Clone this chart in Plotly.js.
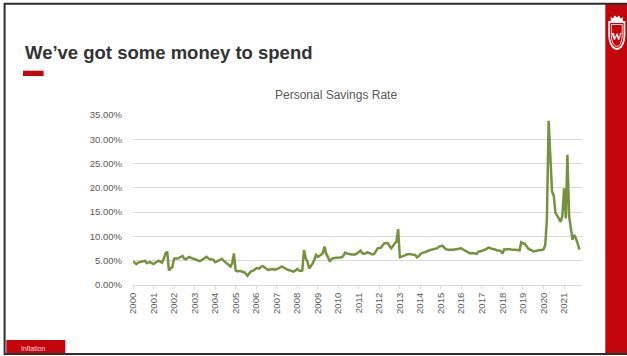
<!DOCTYPE html>
<html>
<head>
<meta charset="utf-8">
<script src="https://cdn.plot.ly/plotly-3.0.1.min.js"></script>
<style>
  html, body { margin: 0; padding: 0; background: #ffffff; }
  #chart { width: 627px; height: 356px; }
</style>
</head>
<body>
<div id="chart"></div>
<script>
// ---- Data ----
const slideTitle = "We\u2019ve got some money to spend";
const chartTitle = "Personal Savings Rate";
const footerLabel = "Inflation";
const startYear = 2000;
// Monthly personal savings rate (%), Jan 2000 .. Oct 2021
const savingsRate = [
  4.9, 4.5, 4.3, 4.6, 4.7, 4.8, 4.9, 5.0, 4.5, 4.6, 4.7, 4.5,   // 2000
  4.3, 4.6, 4.8, 5.0, 4.8, 4.6, 5.4, 6.5, 6.9, 3.0, 3.4, 3.7,   // 2001
  5.4, 5.5, 5.4, 5.6, 5.8, 6.0, 5.4, 5.3, 5.6, 5.8, 5.6, 5.5,   // 2002
  5.4, 5.2, 5.0, 4.9, 5.1, 5.3, 5.5, 5.8, 5.5, 5.3, 5.3, 5.2,   // 2003
  4.7, 4.8, 5.0, 5.2, 5.4, 5.0, 4.7, 4.4, 4.1, 3.8, 4.5, 6.5,   // 2004
  3.0, 2.8, 2.9, 2.9, 2.7, 2.7, 2.3, 1.9, 2.4, 2.8, 2.9, 3.2,   // 2005
  3.4, 3.5, 3.4, 3.8, 3.9, 3.6, 3.4, 3.1, 3.2, 3.3, 3.3, 3.1,   // 2006
  3.2, 3.4, 3.6, 3.8, 3.6, 3.3, 3.2, 3.1, 2.95, 2.9, 2.75, 3.0, // 2007
  3.3, 3.0, 2.9, 3.0, 7.2, 5.5, 4.8, 3.4, 3.9, 4.4, 5.2, 6.2,   // 2008
  5.8, 6.0, 6.2, 6.6, 7.9, 6.4, 5.8, 4.8, 5.3, 5.5, 5.6, 5.6,   // 2009
  5.6, 5.6, 5.7, 6.0, 6.65, 6.5, 6.4, 6.4, 6.3, 6.3, 6.3, 6.5,  // 2010
  6.8, 7.1, 6.6, 6.4, 6.5, 6.7, 6.6, 6.5, 6.3, 6.4, 6.9, 7.55,  // 2011
  7.6, 7.7, 8.2, 8.6, 8.6, 8.6, 8.0, 7.55, 8.0, 8.6, 8.9, 11.5, // 2012
  5.7, 5.8, 5.9, 6.1, 6.3, 6.4, 6.4, 6.3, 6.3, 6.2, 5.7, 5.9,   // 2013
  6.4, 6.6, 6.7, 6.8, 7.0, 7.1, 7.2, 7.3, 7.3, 7.4, 7.6, 7.9,   // 2014
  8.0, 8.1, 7.7, 7.35, 7.3, 7.2, 7.3, 7.2, 7.3, 7.3, 7.4, 7.5,  // 2015
  7.55, 7.3, 7.1, 6.9, 6.6, 6.5, 6.6, 6.6, 6.5, 6.4, 6.9, 6.9,  // 2016
  7.0, 7.1, 7.3, 7.5, 7.7, 7.6, 7.4, 7.4, 7.2, 7.1, 7.1, 7.0,   // 2017
  6.5, 7.35, 7.3, 7.4, 7.4, 7.3, 7.3, 7.3, 7.35, 7.2, 7.1, 8.8, // 2018
  8.6, 8.5, 8.1, 7.55, 7.3, 7.2, 6.9, 7.0, 7.1, 7.2, 7.2, 7.2,  // 2019
  7.3, 8.2, 13.4, 33.8, 25.0, 19.2, 18.4, 14.8, 14.3, 13.7, 13.0, 14.2, // 2020
  19.9, 13.7, 26.8, 14.1, 11.3, 9.3, 10.3, 9.6, 8.5, 7.3         // 2021
];
const yearTicks = ["2000","2001","2002","2003","2004","2005","2006","2007","2008","2009","2010",
                   "2011","2012","2013","2014","2015","2016","2017","2018","2019","2020","2021"];
const yTickValues = [0, 5, 10, 15, 20, 25, 30, 35];
const yTickLabels = ["0.00%", "5.00%", "10.00%", "15.00%", "20.00%", "25.00%", "30.00%", "35.00%"];

// ---- Build category dates (one per month) ----
const months = savingsRate.map((_, i) => {
  const y = startYear + Math.floor(i / 12);
  const m = (i % 12) + 1;
  return y + "-" + String(m).padStart(2, "0") + "-01";
});

// ---- Geometry helpers (pixel -> paper) ----
const W = 627, H = 356;
const L = 132.7, R = 581.7, T = 115, B = 285;
const px = x => (x - L) / (R - L);
const py = y => (B - y) / (B - T);

const RED = "#c5050c";
const shapes = [
  {type: "rect", xref: "paper", yref: "paper", x0: px(605), x1: px(630), y0: py(3.5), y1: py(354),
   fillcolor: RED, line: {width: 0}, layer: "above"},
  {type: "rect", xref: "paper", yref: "paper", x0: px(4.3), x1: px(640), y0: py(3.7), y1: py(354),
   fillcolor: "rgba(0,0,0,0)", line: {width: 2, color: "#2e2e2e"}, layer: "above"},
  {type: "rect", xref: "paper", yref: "paper", x0: px(22.7), x1: px(43.3), y0: py(70.7), y1: py(76),
   fillcolor: RED, line: {width: 0}, layer: "above"},
  {type: "rect", xref: "paper", yref: "paper", x0: px(6), x1: px(65), y0: py(340), y1: py(353),
   fillcolor: RED, line: {width: 0}, layer: "above"}
];

function pathOf(pts) {
  return "M " + pts.map(p => px(p[0]) + "," + py(p[1])).join(" L ") + " Z";
}
function shield(cx, top, bot, hw) {
  const pts = [];
  pts.push([cx - hw, top]);
  pts.push([cx + hw, top]);
  for (let k = 0; k <= 10; k++) {
    const a = k / 10 * Math.PI;
    pts.push([cx + hw * Math.cos(a), (top + bot) / 2 + (bot - (top + bot) / 2) * Math.sin(a)]);
  }
  return pathOf(pts);
}
shapes.push({type: "path", xref: "paper", yref: "paper", path: shield(616.5, 21, 50, 8.5),
  fillcolor: "#ffffff", line: {width: 0}, layer: "above"});
shapes.push({type: "path", xref: "paper", yref: "paper", path: shield(616.5, 23, 48, 6.8),
  fillcolor: RED, line: {width: 0}, layer: "above"});
shapes.push({type: "path", xref: "paper", yref: "paper", path: shield(616.5, 24.5, 46.5, 5.4),
  fillcolor: "rgba(0,0,0,0)", line: {width: 0.8, color: "#ffffff"}, layer: "above"});
shapes.push({type: "path", xref: "paper", yref: "paper",
  path: pathOf([[610.5,21],[610.5,17],[612.5,18.5],[614.5,15.5],[616.5,17.5],[618.5,15.5],[620.5,18.5],[622.5,17],[622.5,21]]),
  fillcolor: "#ffffff", line: {width: 0}, layer: "above"});

const annotations = [
  {xref: "paper", yref: "paper", x: px(22.7), y: py(53), xanchor: "left", yanchor: "middle",
   text: slideTitle, showarrow: false,
   font: {family: "Liberation Sans, Arial, sans-serif", size: 18.5, color: "#333333", weight: "bold"}},
  {xref: "paper", yref: "paper", x: px(335.5), y: py(95), xanchor: "center", yanchor: "middle",
   text: chartTitle, showarrow: false,
   font: {family: "Liberation Sans, Arial, sans-serif", size: 12, color: "#595959"}},
  {xref: "paper", yref: "paper", x: px(33), y: py(348), xanchor: "center", yanchor: "middle",
   text: footerLabel, showarrow: false,
   font: {family: "Liberation Sans, Arial, sans-serif", size: 7, color: "#f3d6d6"}},
  {xref: "paper", yref: "paper", x: px(616.5), y: py(36), xanchor: "center", yanchor: "middle",
   text: "W", showarrow: false,
   font: {family: "Liberation Serif, serif", size: 11, color: "#ffffff", weight: "bold"}}
];

const trace = {
  type: "scatter", mode: "lines",
  x: months, y: savingsRate,
  line: {color: "#76923c", width: 2.5, shape: "linear"},
  hoverinfo: "skip"
};

const layout = {
  width: W, height: H, autosize: false,
  margin: {l: L, r: W - R, t: T, b: H - B, pad: 0},
  paper_bgcolor: "#ffffff", plot_bgcolor: "#ffffff",
  showlegend: false,
  font: {family: "Liberation Sans, Arial, sans-serif", color: "#595959"},
  xaxis: {
    type: "date",
    range: ["2000-01-01", "2021-11-16"],
    tickmode: "array",
    tickvals: yearTicks.map(y => y + "-01-01"),
    ticktext: yearTicks,
    tickangle: -90,
    ticks: "outside", ticklen: 3, tickcolor: "#d9d9d9", tickwidth: 1,
    showline: true, linecolor: "#d9d9d9", linewidth: 1,
    showgrid: false, zeroline: false,
    tickfont: {size: 9.5, color: "#595959"},
    fixedrange: true
  },
  yaxis: {
    range: [0, 35],
    tickmode: "array",
    tickvals: yTickValues,
    ticktext: yTickLabels,
    showgrid: true, gridcolor: "#d9d9d9", gridwidth: 1,
    zeroline: false, showline: false, ticks: "",
    ticklabelstandoff: 10,
    tickfont: {size: 9.5, color: "#595959"},
    fixedrange: true
  },
  shapes: shapes,
  annotations: annotations
};

Plotly.newPlot("chart", [trace], layout, {displayModeBar: false, staticPlot: true});
</script>
</body>
</html>
